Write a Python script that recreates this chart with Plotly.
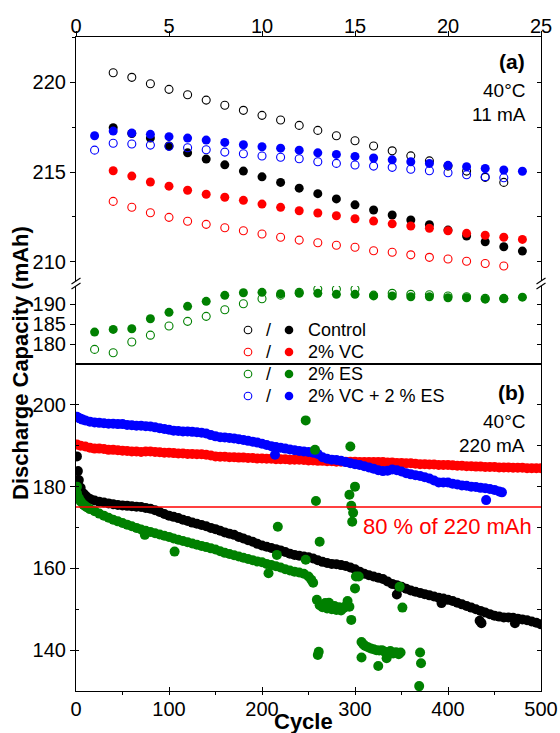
import plotly.graph_objects as go

# ---------------- Panel (a): 40°C, 11 mA (first cycles) ----------------
ctrl_open_cyc = list(range(2, 24))
ctrl_open = [220.54, 220.28, 219.92, 219.61, 219.31, 219.01, 218.72, 218.44, 218.16, 217.90, 217.60,
             217.32, 217.02, 216.74, 216.45, 216.18, 215.90, 215.62, 215.33, 215.05, 214.70, 214.42]
ctrl_fill_cyc = list(range(2, 25))
ctrl_fill = [217.47, 217.15, 216.89, 216.45, 216.07, 215.72, 215.40, 215.05, 214.73, 214.42, 214.10,
             213.79, 213.50, 213.17, 212.88, 212.60, 212.32, 212.06, 211.76, 211.43, 211.11, 210.83, 210.59]
vc_open_cyc = list(range(2, 24))
vc_open = [213.36, 213.03, 212.73, 212.47, 212.25, 212.08, 211.89, 211.72, 211.54, 211.36, 211.20,
           211.05, 210.91, 210.80, 210.61, 210.52, 210.38, 210.24, 210.15, 210.02, 209.90, 209.76]
vc_fill_cyc = list(range(2, 25))
vc_fill = [215.07, 214.77, 214.44, 214.21, 213.98, 213.76, 213.59, 213.42, 213.21, 213.03, 212.84,
           212.71, 212.56, 212.39, 212.26, 212.11, 211.99, 211.86, 211.72, 211.58, 211.47, 211.36, 211.24]
es_open_cyc = list(range(1, 24))
es_open = [178.75, 177.9, 180.6, 182.3, 184.6, 185.75, 187.0, 188.65, 190.15, 191.4, 192.3, 193.0,
           193.8, 193.8, 193.8, 192.3, 192.75, 192.5, 192.4, 192.1, 191.9, 191.5, 191.4]
es_fill_cyc = list(range(1, 25))
es_fill = [183.07, 183.74, 183.9, 186.4, 188.0, 189.5, 190.75, 192.25, 192.9, 193.0, 192.65, 192.75,
           192.75, 192.5, 192.5, 192.1, 192.1, 191.9, 191.9, 191.65, 191.65, 191.3, 191.5, 191.8]
vces_open_cyc = list(range(1, 24))
vces_open = [216.22, 216.60, 216.56, 216.50, 216.43, 216.35, 216.24, 216.11, 216.02, 215.89, 215.82,
             215.74, 215.57, 215.48, 215.39, 215.33, 215.26, 215.15, 215.07, 214.96, 214.85, 214.74, 214.68]
vces_fill_cyc = list(range(1, 25))
vces_fill = [217.02, 217.28, 217.17, 217.10, 216.97, 216.89, 216.78, 216.65, 216.52, 216.41, 216.33, 216.22,
             216.07, 215.98, 215.87, 215.78, 215.68, 215.57, 215.48, 215.37, 215.29, 215.20, 215.11, 215.04]

# ---------------- Panel (b): 40°C, 220 mA (long cycling) ----------------
ctrl_b_cyc = [1, 2, 3, 5, 8, 10, 12, 15, 20, 25, 30, 35, 40, 45, 50, 55, 60, 65, 70, 75, 80, 85, 90, 95,
              100, 105, 110, 115, 120, 125, 130, 135, 140, 145, 150, 155, 160, 165, 170, 175, 180, 185,
              190, 195, 200, 205, 210, 215, 220, 225, 230, 235, 240, 245, 250, 255, 260, 265, 270, 275,
              280, 285, 290, 295, 300, 305, 310, 315, 320, 325, 330, 335, 340, 345, 345, 350, 355, 360,
              365, 370, 375, 380, 385, 390, 393, 395, 400, 405, 410, 415, 420, 425, 430, 434, 436, 435,
              440, 445, 450, 455, 460, 465, 470, 472, 475, 480, 485, 490, 495, 500]
ctrl_b = [187.4, 183.8, 181.6, 179.7, 178.3, 177.8, 177.4, 177.0, 176.6, 176.3, 176.1, 175.9, 175.7, 175.5,
          175.4, 175.3, 175.2, 175.1, 175.0, 174.8, 174.6, 174.2, 173.8, 173.3, 172.9, 172.6, 172.3, 171.9,
          171.6, 171.2, 170.9, 170.6, 170.3, 169.9, 169.6, 169.2, 168.8, 168.5, 168.2, 167.7, 167.3, 166.9,
          166.5, 166.0, 165.6, 165.3, 165.0, 164.7, 164.4, 164.0, 163.6, 163.3, 163.1, 162.9, 162.7, 162.4,
          162.0, 161.6, 161.3, 161.1, 161.0, 160.8, 160.6, 160.2, 159.8, 159.2, 158.7, 158.3, 158.0, 157.7,
          157.4, 156.8, 156.2, 153.6, 155.9, 155.5, 155.0, 154.6, 154.3, 154.0, 153.7, 153.4, 153.1, 152.8,
          151.5, 152.6, 152.3, 152.0, 151.6, 151.2, 150.8, 150.4, 150.0, 147.2, 146.6, 149.6, 149.2, 148.8,
          148.4, 148.2, 148.0, 148.0, 147.9, 146.6, 147.7, 147.5, 147.3, 147.0, 146.7, 146.3]

vc_b_cyc = [1, 5, 10, 15, 20, 25, 30, 35, 40, 45, 50, 55, 60, 65, 70, 75, 80, 85, 90, 95, 100, 105, 110,
            115, 120, 125, 130, 135, 140, 145, 150, 155, 160, 165, 170, 175, 180, 185, 190, 195, 200, 205,
            210, 215, 220, 225, 230, 235, 240, 245, 250, 255, 260, 265, 270, 275, 280, 285, 290, 295, 300,
            305, 310, 315, 320, 325, 330, 335, 340, 345, 350, 355, 360, 365, 370, 375, 380, 385, 390, 395,
            400, 405, 410, 415, 420, 425, 430, 435, 440, 445, 450, 455, 460, 465, 470, 475, 480, 485, 490,
            495, 500]
vc_b = [190.3, 190.0, 189.8, 189.5, 189.3, 189.3, 189.2, 189.0, 189.0, 188.9, 188.8, 188.7, 188.6, 188.6,
        188.5, 188.6, 188.6, 188.5, 188.4, 188.3, 188.3, 188.2, 188.1, 188.1, 188.0, 188.0, 187.9, 187.9,
        187.8, 187.6, 187.4, 187.3, 187.3, 187.2, 187.2, 187.1, 187.1, 187.0, 187.0, 186.9, 186.9, 186.8,
        186.8, 186.7, 186.7, 186.7, 186.6, 186.6, 186.6, 186.5, 186.4, 186.4, 186.3, 186.3, 186.2, 186.2,
        186.1, 186.1, 186.1, 186.1, 186.1, 186.0, 186.0, 186.0, 186.0, 186.0, 186.0, 185.9, 185.9, 185.8,
        185.8, 185.7, 185.7, 185.6, 185.5, 185.5, 185.4, 185.4, 185.3, 185.3, 185.3, 185.2, 185.1, 185.1,
        185.0, 185.0, 184.9, 184.9, 184.8, 184.8, 184.8, 184.7, 184.7, 184.7, 184.6, 184.6, 184.6, 184.5,
        184.5, 184.5, 184.5]

es_b_cyc = [1, 1, 3, 5, 8, 10, 12, 15, 20, 25, 30, 35, 40, 45, 50, 55, 60, 65, 70, 74, 75, 80, 85, 90, 95,
            100, 105, 106, 110, 115, 120, 125, 130, 135, 140, 145, 150, 155, 160, 165, 170, 175, 180, 185,
            190, 195, 200, 205, 207, 210, 215, 216, 217, 220, 225, 230, 235, 240, 245, 247, 247, 250, 253,
            255, 257, 258, 259, 260, 261, 262, 262, 265, 268, 270, 272, 275, 278, 280, 283, 285, 288, 290,
            292, 294, 294, 295, 296, 296, 297, 298, 300, 300, 301, 304, 307, 307, 309, 311, 314, 317, 320,
            323, 325, 326, 329, 332, 334, 335, 338, 341, 344, 347, 348, 349, 351, 369, 370, 371]
es_b = [180.0, 178.4, 177.2, 176.4, 175.6, 175.2, 174.9, 174.5, 174.0, 173.4, 172.9, 172.4, 171.9, 171.5,
        171.1, 170.7, 170.3, 169.9, 169.5, 168.2, 169.2, 168.9, 168.6, 168.3, 168.0, 167.7, 167.3, 164.1,
        167.0, 166.7, 166.4, 166.1, 165.8, 165.5, 165.2, 164.9, 164.6, 164.2, 163.8, 163.5, 163.2, 162.9,
        162.6, 162.3, 162.0, 161.7, 161.5, 161.1, 158.8, 160.8, 160.5, 163.3, 170.2, 160.2, 159.8, 159.5,
        159.2, 159.0, 158.7, 162.1, 196.2, 158.0, 157.2, 156.5, 189.0, 176.5, 152.3, 138.8, 139.6, 166.5,
        151.0, 150.5, 151.5, 150.2, 151.6, 150.0, 150.8, 149.8, 150.5, 149.7, 150.3, 150.8, 152.0, 150.6,
        178.0, 189.8, 175.3, 147.4, 171.4, 173.6, 180.0, 155.1, 158.0, 158.0, 142.0, 138.2, 141.4, 141.0,
        140.7, 140.4, 140.2, 140.0, 136.1, 139.9, 140.0, 139.6, 138.0, 139.4, 139.8, 139.2, 139.5, 139.0,
        155.5, 139.4, 150.4, 131.2, 139.4, 136.8]

vces_b_cyc = [1, 3, 5, 7, 10, 15, 20, 25, 30, 35, 40, 45, 50, 55, 60, 65, 70, 75, 80, 85, 90, 95, 100, 105,
              110, 115, 120, 125, 130, 135, 140, 145, 150, 155, 160, 165, 170, 175, 180, 185, 190, 195, 200,
              205, 210, 214, 215, 220, 225, 230, 235, 240, 245, 250, 255, 260, 265, 270, 275, 280, 285, 290,
              295, 300, 305, 310, 315, 320, 325, 330, 335, 340, 345, 350, 355, 360, 365, 370, 375, 380, 385,
              390, 395, 400, 405, 410, 415, 420, 425, 430, 435, 440, 441, 445, 450, 455, 458]
vces_b = [197.1, 196.8, 196.6, 196.4, 196.2, 195.9, 195.7, 195.6, 195.5, 195.4, 195.4, 195.3, 195.3, 195.1,
          195.0, 194.9, 194.9, 194.8, 194.7, 194.5, 194.3, 194.1, 193.9, 193.7, 193.6, 193.5, 193.5, 193.4,
          193.3, 193.2, 193.0, 192.6, 192.3, 192.1, 192.0, 191.9, 191.8, 191.6, 191.4, 191.2, 191.0, 190.8,
          190.5, 190.2, 189.9, 187.8, 189.7, 189.5, 189.3, 189.1, 188.9, 188.7, 188.6, 188.5, 188.3, 188.0,
          187.2, 186.8, 186.6, 186.5, 186.3, 186.0, 185.7, 185.5, 185.3, 185.0, 184.7, 184.4, 184.0, 183.8,
          183.9, 184.2, 184.0, 183.7, 183.3, 183.0, 182.8, 182.6, 182.3, 182.0, 181.5, 181.0, 181.0, 181.0,
          180.7, 180.5, 180.3, 180.2, 180.0, 179.9, 179.7, 179.6, 176.7, 179.4, 179.2, 178.8, 178.6]

threshold_x = [0, 500]
threshold_y = [175, 175]

series_names = ["Control", "2% VC", "2% ES", "2% VC + 2 % ES"]
series_colors = ["#000000", "#FF0000", "#008000", "#0000FF"]

FONT = "Arial, 'Liberation Sans', sans-serif"

# ---------------- geometry helpers (plot-area pixel -> paper) ----------------
L, R, T, B = 76, 541, 37, 691
W, H = 560, 733
def pxx(px):
    return (px - L) / (R - L)
def pxy(py):
    return (B - py) / (B - T)

fig = go.Figure()

def add_pair(xo, yo, xf, yf, color, xa, ya):
    fig.add_trace(go.Scatter(x=xo, y=yo, mode="markers", xaxis=xa, yaxis=ya, showlegend=False,
                             marker=dict(symbol="circle-open", size=8, color=color, line=dict(width=1.1, color=color))))
    fig.add_trace(go.Scatter(x=xf, y=yf, mode="markers", xaxis=xa, yaxis=ya, showlegend=False,
                             marker=dict(symbol="circle", size=9, color=color, line=dict(width=0))))

add_pair(ctrl_open_cyc, ctrl_open, ctrl_fill_cyc, ctrl_fill, series_colors[0], "x", "y")
add_pair(vc_open_cyc, vc_open, vc_fill_cyc, vc_fill, series_colors[1], "x", "y")
add_pair(vces_open_cyc, vces_open, vces_fill_cyc, vces_fill, series_colors[3], "x", "y")
add_pair(es_open_cyc, es_open, es_fill_cyc, es_fill, series_colors[2], "x2", "y2")

# Panel (b)
for cyc, val, col in [(ctrl_b_cyc, ctrl_b, series_colors[0]), (vc_b_cyc, vc_b, series_colors[1]),
                      (vces_b_cyc, vces_b, series_colors[3]), (es_b_cyc, es_b, series_colors[2])]:
    fig.add_trace(go.Scatter(x=cyc, y=val, mode="markers", xaxis="x3", yaxis="y3", showlegend=False,
                             marker=dict(symbol="circle", size=10, color=col, line=dict(width=0))))
fig.add_trace(go.Scatter(x=threshold_x, y=threshold_y, mode="lines", xaxis="x3", yaxis="y3",
                         showlegend=False, line=dict(color="#FF0000", width=1.6)))

# empty traces to host tick-only companion axes
for xa, ya in [("x", "y4"), ("x2", "y5"), ("x3", "y6"), ("x4", "y")]:
    fig.add_trace(go.Scatter(x=[], y=[], xaxis=xa, yaxis=ya, showlegend=False, hoverinfo="skip"))

tickfont = dict(family=FONT, size=20, color="black")
axcommon = dict(showline=True, linecolor="black", linewidth=1.2, showgrid=False, zeroline=False,
                tickcolor="black", tickwidth=1.2, tickfont=tickfont, automargin=False)
tickonly = dict(tickcolor="black", tickwidth=1.2, showticklabels=False,
                showline=False, showgrid=False, zeroline=False, automargin=False)

up_rng = [208.92, 222.53]
lo_rng = [175.1, 194.58]
b_rng = [130, 210]

layout = dict(
    width=W, height=H, margin=dict(l=L, r=W - R, t=T, b=H - B, autoexpand=False),
    paper_bgcolor="white", plot_bgcolor="rgba(0,0,0,0)", showlegend=False,
    # labelled top axis (labels only)
    xaxis=dict(axcommon, domain=[0, 1], range=[0, 25], side="top", anchor="free", position=1.0,
               dtick=5, tick0=0, ticks="", showline=False, mirror=False),
    # frame line + outside ticks of the top axis
    xaxis4=dict(tickonly, overlaying="x", side="top", anchor="y", range=[0, 25], dtick=5, tick0=0,
                ticks="outside", ticklen=5, showline=True, linecolor="black", linewidth=1.2),
    yaxis=dict(axcommon, domain=[pxy(281), 1], range=up_rng, anchor="x4", dtick=5, tick0=0,
               ticks="outside", ticklen=5, mirror=True,
               minor=dict(dtick=2.5, tick0=0, ticks="outside", ticklen=3, tickcolor="black")),
    xaxis2=dict(axcommon, domain=[0, 1], range=[0, 25], anchor="y2", matches="x", showticklabels=False,
                ticks="", mirror=False),
    yaxis2=dict(axcommon, domain=[0.5, pxy(286)], range=lo_rng, anchor="x2", dtick=5, tick0=0,
                ticks="outside", ticklen=5, mirror=True),
    xaxis3=dict(axcommon, domain=[0, 1], range=[0, 500], anchor="y3", dtick=100, tick0=0,
                ticks="inside", ticklen=4, mirror=True,
                minor=dict(dtick=50, tick0=0, ticks="outside", ticklen=3, tickcolor="black")),
    yaxis3=dict(axcommon, domain=[0, 0.5], range=b_rng, anchor="x3", dtick=20, tick0=0,
                ticks="outside", ticklen=5, mirror=True,
                minor=dict(dtick=10, tick0=0, ticks="inside", ticklen=3, tickcolor="black")),
    yaxis4=dict(tickonly, overlaying="y", side="right", anchor="x4", range=up_rng, dtick=2.5, tick0=0,
                ticks="inside", ticklen=4),
    yaxis5=dict(tickonly, overlaying="y2", side="right", anchor="x2", range=lo_rng, dtick=5, tick0=0,
                ticks="inside", ticklen=4),
    yaxis6=dict(tickonly, overlaying="y3", side="right", anchor="x3", range=b_rng, dtick=10, tick0=0,
                ticks="inside", ticklen=4),
)
fig.update_layout(**layout)

ann = []
def text(px, py, s, size=19, color="black", xanchor="right", bold=False, angle=0):
    ann.append(dict(x=pxx(px), y=pxy(py), xref="paper", yref="paper", text=("<b>%s</b>" % s) if bold else s,
                    showarrow=False, xanchor=xanchor, yanchor="middle", textangle=angle,
                    font=dict(family=FONT, size=size, color=color)))

text(527, 61, "(a)", size=21, bold=True)
text(527, 90, "40°C")
text(528, 115, "11 mA")
text(527, 392, "(b)", size=21, bold=True)
text(527, 421, "40°C")
text(527, 445, "220 mA")
text(534, 526, "80 % of 220 mAh", size=22, color="#FF0000")
text(303, 721, "Cycle", size=22, bold=True, xanchor="center")
text(20, 363, "Discharge Capacity (mAh)", size=22, bold=True, xanchor="center", angle=-90)

# legend (open / filled symbols)
shapes = []
rows = [330, 352, 374, 396]
r = 3.8
for name, col, ry in zip(series_names, series_colors, rows):
    shapes.append(dict(type="circle", xref="paper", yref="paper",
                       x0=pxx(248 - r), x1=pxx(248 + r), y0=pxy(ry + r), y1=pxy(ry - r),
                       line=dict(color=col, width=1.1), fillcolor="rgba(0,0,0,0)"))
    shapes.append(dict(type="circle", xref="paper", yref="paper",
                       x0=pxx(289 - 4.3), x1=pxx(289 + 4.3), y0=pxy(ry + 4.3), y1=pxy(ry - 4.3),
                       line=dict(color=col, width=0), fillcolor=col))
    text(268, ry, "/", size=18, xanchor="center")
    text(306, ry, name, size=18, xanchor="left")

# axis break marks
for bx in (L, R):
    for cy in (281, 286):
        shapes.append(dict(type="line", xref="paper", yref="paper",
                           x0=pxx(bx - 4.5), y0=pxy(cy + 3), x1=pxx(bx + 4.5), y1=pxy(cy - 3),
                           line=dict(color="black", width=1.1)))

fig.update_layout(annotations=ann, shapes=shapes)
fig.write_html("out.html")
